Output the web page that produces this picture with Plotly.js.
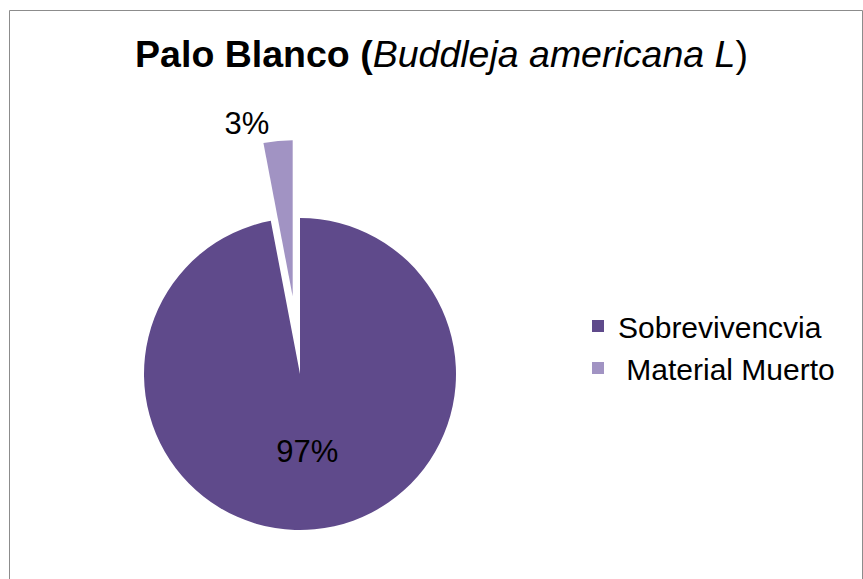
<!DOCTYPE html>
<html>
<head>
<meta charset="utf-8">
<script src="https://cdn.plot.ly/plotly-3.0.1.min.js"></script>
<style>
html, body { margin: 0; padding: 0; overflow: hidden; background: #fff; }
#chart { width: 863px; height: 620px; }
</style>
</head>
<body>
<div id="chart"></div>
<script>
var categories = ["Sobrevivencvia", "\u00a0Material Muerto"];
var values = [97, 3];
var percentLabels = ["97%", "3%"];
var titleBold = "Palo Blanco (";
var titleItalic = "Buddleja americana L";
var titleEnd = ")";

var W = 863, H = 620;
var FONT = "Liberation Sans, Arial, Helvetica, sans-serif";

var trace = {
  type: "pie",
  labels: categories,
  values: values,
  text: percentLabels,
  textinfo: "text",
  textposition: ["inside", "outside"],
  insidetextorientation: "horizontal",
  sort: false,
  direction: "clockwise",
  rotation: 0,
  pull: [0, 0.5],
  hole: 0,
  marker: {
    colors: ["#5f4a8b", "#a193c3"],
    line: { color: "#ffffff", width: 0 }
  },
  textfont: { family: FONT, size: 31, color: "#000000" },
  insidetextfont: { family: FONT, size: 31, color: "#000000" },
  outsidetextfont: { family: FONT, size: 31, color: "#000000" },
  domain: { x: [66 / W, 534 / W], y: [12 / H, 480 / H] },
  showlegend: true,
  hoverinfo: "label+percent"
};

var layout = {
  width: W,
  height: H,
  margin: { l: 0, r: 0, t: 0, b: 0, pad: 0 },
  paper_bgcolor: "#ffffff",
  plot_bgcolor: "#ffffff",
  font: { family: FONT, color: "#000000" },
  title: {
    text: "<b>" + titleBold + "</b><i>" + titleItalic + "</i>" + titleEnd,
    font: { family: FONT, size: 37.5, color: "#000000" },
    xref: "container",
    yref: "container",
    x: 441.5 / W,
    xanchor: "center",
    y: 1 - 54 / H,
    yanchor: "middle"
  },
  legend: {
    x: 578 / W,
    xanchor: "left",
    y: 1 - 347 / H,
    yanchor: "middle",
    font: { family: FONT, size: 30, color: "#000000" },
    bgcolor: "rgba(0,0,0,0)",
    borderwidth: 0,
    traceorder: "normal"
  },
  shapes: [{
    type: "rect",
    xref: "paper",
    yref: "paper",
    x0: 9.5 / W,
    x1: 862.5 / W,
    y0: -0.05,
    y1: 1 - 10.5 / H,
    line: { color: "#8c8c8c", width: 1 },
    fillcolor: "rgba(0,0,0,0)",
    layer: "below"
  }]
};

Plotly.newPlot("chart", [trace], layout, { staticPlot: true, displayModeBar: false });
</script>
</body>
</html>
